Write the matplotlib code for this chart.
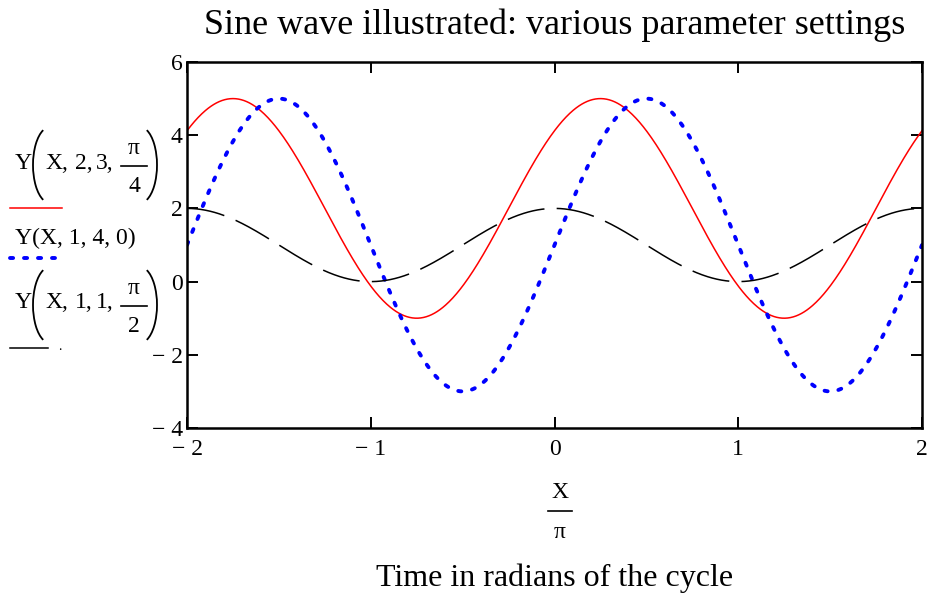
import numpy as np
import matplotlib
matplotlib.use("Agg")
import matplotlib.pyplot as plt
from matplotlib.lines import Line2D
from matplotlib.patches import Arc

plt.rcParams['font.family'] = ['Liberation Serif', 'DejaVu Serif']

# Y(X, a, b, c) = a + b*sin(X + c), parameters
offsets = [2, 1, 1]
amplitudes = [3, 4, 1]
phases = [np.pi / 4, 0, np.pi / 2]
phase_den = [4, None, 2]        # phase shown as pi/den in the legend, None -> 0
colors = ['#ff0000', '#0000ff', '#000000']
styles = ['-', (0, (0.8, 2.8)), (0, (25, 8))]
widths = [1.1, 2.8, 1.1]

xticks = [-2, -1, 0, 1, 2]
xticklabels = ['\u2212 2', '\u2212 1', '0', '1', '2']
yticks = [-4, -2, 0, 2, 4, 6]
yticklabels = ['\u2212 4', '\u2212 2', '0', '2', '4', '6']

W, H = 931, 593
X = np.linspace(-2 * np.pi, 2 * np.pi, 800)

fig = plt.figure(figsize=(W / 100, H / 100), dpi=100)
ax = fig.add_axes([187 / W, 165 / H, 735 / W, 366 / H])

for a, b, c, col, ls, lw in zip(offsets, amplitudes, phases, colors, styles, widths):
    ax.plot(X / np.pi, a + b * np.sin(X + c), color=col, linestyle=ls, lw=lw,
            dash_capstyle='round' if col == '#0000ff' else 'butt')

ax.set_xlim(-2, 2)
ax.set_ylim(-4, 6)
ax.set_xticks(xticks)
ax.set_xticklabels(xticklabels)
ax.set_yticks(yticks)
ax.set_yticklabels(yticklabels)
ax.tick_params(direction='in', length=8, width=1.4, top=True, right=True,
               labelsize=17, color='black')
ax.tick_params(axis='x', pad=8)
ax.tick_params(axis='y', pad=3)
for sp in ax.spines.values():
    sp.set_linewidth(1.8)


def px(x, y):
    # pixel position from top-left -> figure fraction
    return x / W, 1 - y / H


def txt(x, y, s, fs, ha='left'):
    fig.text(*px(x, y), s, ha=ha, va='center', fontsize=fs)


def hline(x0, x1, y, **kw):
    fig.add_artist(Line2D([x0 / W, x1 / W], [1 - y / H, 1 - y / H],
                          transform=fig.transFigure, **kw))


def paren(cx, cy, theta1, theta2):
    # big Mathcad-style bracket, drawn in inch units so the arc stays round
    fig.add_artist(Arc((cx / 100, (H - cy) / 100), 0.34, 0.76, theta1=theta1,
                       theta2=theta2, transform=fig.dpi_scale_trans,
                       color='black', lw=1.3))


fig.text(*px(555, 25), 'Sine wave illustrated: various parameter settings',
         ha='center', va='center', fontsize=26)

# X / pi axis label drawn as a stacked fraction
txt(560, 493, 'X', 17, ha='center')
hline(548, 572, 511, color='black', lw=1.2)
txt(560, 532, 'π', 17, ha='center')
fig.text(*px(555, 578), 'Time in radians of the cycle',
         ha='center', va='center', fontsize=23)

# legend on the left, Mathcad style
entry_y = [165, 238, 305]
line_y = [208, 258, 348]
line_x1 = [62, 55, 48]
for a, b, den, yc, sy, x1, col, ls, lw in zip(offsets, amplitudes, phase_den, entry_y,
                                              line_y, line_x1, colors, styles, widths):
    if den is None:
        txt(15, yc, 'Y(X, %d, %d, 0)' % (a, b), 17)
    else:
        txt(15, yc - 2, 'Y', 17)
        paren(50, yc, 101, 259)
        txt(45, yc - 2, 'X,', 17)
        txt(75, yc - 2, '%d,' % a, 17)
        txt(96, yc - 2, '%d,' % b, 17)
        txt(134, yc - 16, 'π', 17, ha='center')
        hline(121, 147, yc + 1, color='black', lw=1.2)
        txt(134, yc + 21, '%d' % den, 17, ha='center')
        paren(140, yc, -79, 79)
    hline(10, x1, sy, color=col, linestyle='-' if col == '#000000' else ls, lw=lw,
          dash_capstyle='round')
txt(60, 346, '.', 10, ha='center')

fig.savefig('out.png', dpi=100)
